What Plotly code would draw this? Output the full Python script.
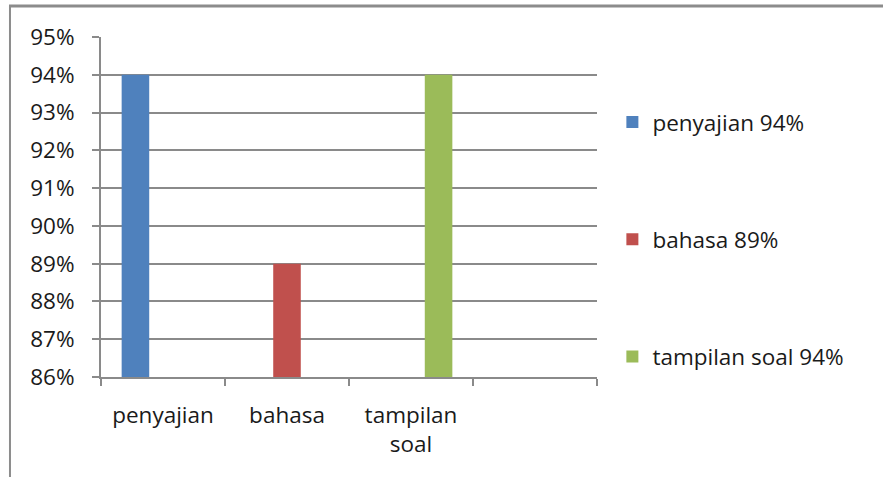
import plotly.graph_objects as go

categories = ["penyajian", "bahasa", "tampilan soal", " "]
tick_labels = ["penyajian", "bahasa", "tampilan<br>soal", ""]
series_names = ["penyajian 94%", "bahasa 89%", "tampilan soal 94%"]
series_values = [
    [0.94, None, None, None],
    [None, 0.89, None, None],
    [None, None, 0.94, None],
]
colors = ["#4F81BD", "#C0504D", "#9BBB59"]
y_ticks = [0.86, 0.87, 0.88, 0.89, 0.90, 0.91, 0.92, 0.93, 0.94, 0.95]

FONT = "Open Sans"
TXT = "#1a1a1a"
GRID = "#8a8a8a"
FS = 22.5

fig = go.Figure()
for i, (name, vals, col) in enumerate(zip(series_names, series_values, colors)):
    fig.add_trace(go.Bar(
        x=categories, y=vals, name=name, marker_color=col,
        marker_line_width=0, legendgroup=f"g{i}",
    ))

fig.update_layout(
    width=883, height=477,
    margin=dict(l=101, r=286, t=37, b=100, pad=0),
    paper_bgcolor="white", plot_bgcolor="white",
    barmode="group", bargap=0.333, bargroupgap=0,
    font=dict(family=FONT, size=FS, color=TXT),
    showlegend=True,
    legend=dict(
        x=1.031, xanchor="left", y=0.405, yanchor="middle",
        tracegroupgap=85, font=dict(family=FONT, size=FS, color=TXT),
        itemwidth=30, bgcolor="rgba(0,0,0,0)",
    ),
    xaxis=dict(
        type="category", categoryorder="array", categoryarray=categories,
        tickmode="array", tickvals=categories, ticktext=tick_labels,
        range=[-0.5, 3.5], tickson="boundaries", ticks="outside",
        ticklen=7, tickwidth=2, tickcolor=GRID,
        showline=True, linecolor=GRID, linewidth=2,
        showgrid=False, zeroline=False, ticklabelstandoff=17,
        tickfont=dict(family=FONT, size=FS, color=TXT),
    ),
    yaxis=dict(
        range=[0.86, 0.95], tickmode="array", tickvals=y_ticks,
        tickformat=".0%", ticks="outside", ticklen=7, tickwidth=2,
        tickcolor=GRID, showline=True, linecolor=GRID, linewidth=2,
        showgrid=True, gridcolor=GRID, gridwidth=2, zeroline=False,
        ticklabelstandoff=13,
        tickfont=dict(family=FONT, size=FS, color=TXT),
    ),
    shapes=[
        dict(type="line", xref="paper", yref="paper",
             x0=-0.1835, x1=-0.1835, y0=-0.4, y1=1.091,
             line=dict(color="#8c8c8c", width=2)),
        dict(type="line", xref="paper", yref="paper",
             x0=-0.1855, x1=2.0, y0=1.091, y1=1.091,
             line=dict(color="#8c8c8c", width=3)),
    ],
)

fig.write_html("out.html")
